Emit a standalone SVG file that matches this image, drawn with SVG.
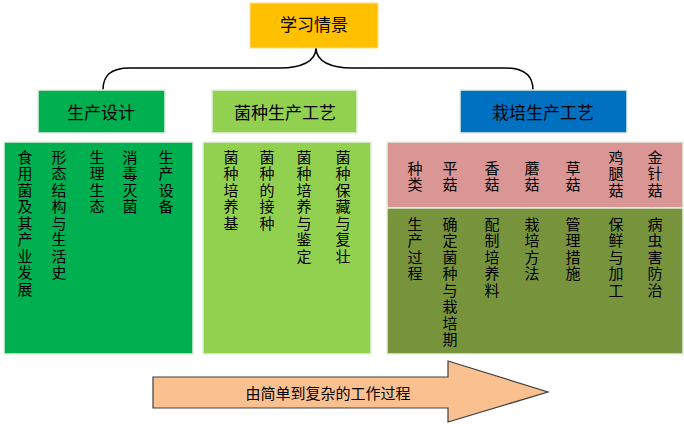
<svg xmlns="http://www.w3.org/2000/svg" width="684" height="427" viewBox="0 0 684 427">
<style>
text{font-family:"Noto Sans CJK SC","Noto Sans",sans-serif;fill:#000}
.h{font-size:17px;text-anchor:middle;dominant-baseline:central}
.a{font-size:15px;text-anchor:middle;dominant-baseline:central}
.v{font-size:15px;writing-mode:vertical-rl;letter-spacing:1.5px}
.box{stroke:#e6efe0;stroke-width:1.5}
.conn{fill:none;stroke:#000;stroke-width:1.5}
</style>
<rect width="684" height="427" fill="#fff"/>
<g id="connectors">
<path class="conn" d="M316,48 C316,62 300,68 280,68 L130,68 C110,68 103,76 103,90"/>
<path class="conn" d="M316,48 C316,62 332,68 352,68 L505,68 C525,68 533,76 533,90"/>
</g>
<g id="n-root"><rect x="250" y="3" width="128" height="45" fill="#FFC000" stroke="#ffe08a"/><text class="h" x="314" y="23">学习情景</text></g>
<g id="n-design"><rect x="38" y="90" width="127" height="43" fill="#00B050" class="box"/><text class="h" x="101" y="111">生产设计</text></g>
<g id="n-strain"><rect x="212" y="90" width="145" height="43" fill="#92D050" class="box"/><text class="h" x="285" y="111">菌种生产工艺</text></g>
<g id="n-cult"><rect x="460" y="90" width="167" height="43" fill="#0070C0" class="box"/><text class="h" x="543" y="111">栽培生产工艺</text></g>

<g id="n-design-items">
<rect x="4" y="142" width="189" height="212" fill="#00B050" class="box"/>
<text class="v" x="25" y="149.5">食用菌及其产业发展</text>
<text class="v" x="59" y="149.5">形态结构与生活史</text>
<text class="v" x="97" y="149.5">生理生态</text>
<text class="v" x="130" y="149.5">消毒灭菌</text>
<text class="v" x="166" y="149.5">生产设备</text>
</g>

<g id="n-strain-items">
<rect x="203" y="142" width="168" height="212" fill="#92D050" class="box"/>
<text class="v" x="231" y="149.5">菌种培养基</text>
<text class="v" x="267" y="149.5">菌种的接种</text>
<text class="v" x="304" y="149.5">菌种培养与鉴定</text>
<text class="v" x="343" y="149.5">菌种保藏与复壮</text>
</g>

<g id="n-cult-items">
<rect x="387" y="142" width="296" height="66" fill="#D99694" class="box"/>
<rect x="387" y="208" width="296" height="146" fill="#77933C" class="box"/>
<text class="v" x="415" y="160.5">种类</text>
<text class="v" x="450" y="160.5">平菇</text>
<text class="v" x="492" y="160.5">香菇</text>
<text class="v" x="532" y="160.5">蘑菇</text>
<text class="v" x="573" y="160.5">草菇</text>
<text class="v" x="616" y="149.5">鸡腿菇</text>
<text class="v" x="655" y="149.5">金针菇</text>
<text class="v" x="415" y="216.5">生产过程</text>
<text class="v" x="450" y="216.5">确定菌种与栽培期</text>
<text class="v" x="492" y="216.5">配制培养料</text>
<text class="v" x="532" y="216.5">栽培方法</text>
<text class="v" x="573" y="216.5">管理措施</text>
<text class="v" x="616" y="216.5">保鲜与加工</text>
<text class="v" x="655" y="216.5">病虫害防治</text>
</g>

<g id="n-arrow">
<path d="M153,377 L448,377 L448,361 L548,392 L448,422 L448,408 L153,408 Z" fill="#FAC090" stroke="#404040" stroke-width="1.2"/>
<text class="a" x="328" y="392">由简单到复杂的工作过程</text>
</g>
</svg>
